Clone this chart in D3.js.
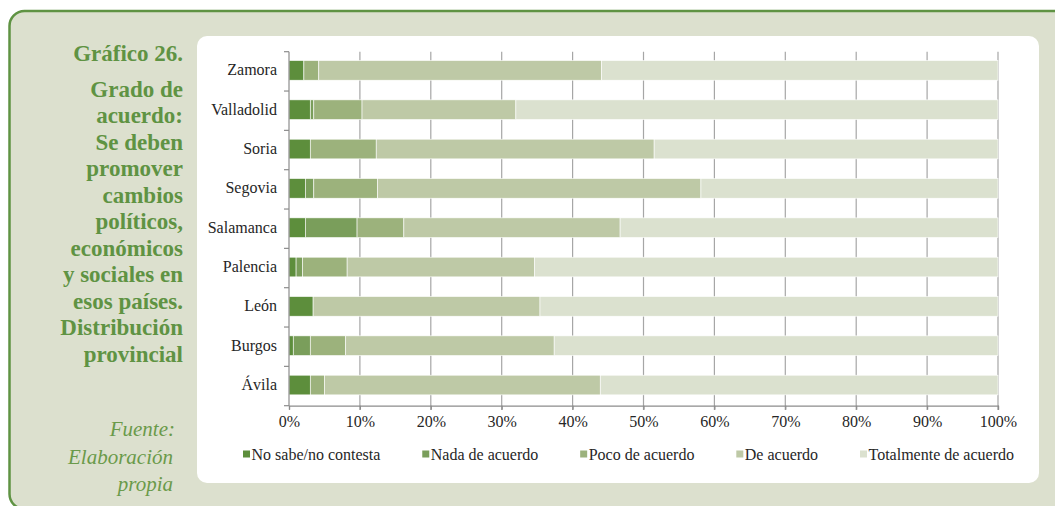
<!DOCTYPE html>
<html>
<head>
<meta charset="utf-8">
<script src="https://cdn.jsdelivr.net/npm/d3@7"></script>
</head>
<body style="margin:0">
<svg id="chart" width="1055" height="506"></svg>
<script>
// Provinces, top to bottom
const categories = ["Zamora", "Valladolid", "Soria", "Segovia", "Salamanca", "Palencia", "León", "Burgos", "Ávila"];

// Answer categories (legend order)
const seriesNames = ["No sabe/no contesta", "Nada de acuerdo", "Poco de acuerdo", "De acuerdo", "Totalmente de acuerdo"];

// Percentages per province
const noSabe     = [2.1, 3.0, 3.0, 2.3, 2.3, 1.0, 3.4, 0.6, 3.0];
const nada       = [0.0, 0.5, 0.0, 1.2, 7.3, 0.9, 0.0, 2.4, 0.0];
const poco       = [2.1, 6.8, 9.3, 9.0, 6.6, 6.3, 0.0, 5.0, 2.0];
const deAcuerdo  = [39.9, 21.7, 39.2, 45.6, 30.5, 26.4, 32.0, 29.4, 38.9];
const totalmente = [55.9, 68.0, 48.5, 41.9, 53.3, 65.4, 64.6, 62.6, 56.1];

const xTicks = [0, 10, 20, 30, 40, 50, 60, 70, 80, 90, 100];

const titleLines = ["Grado de", "acuerdo:", "Se deben", "promover", "cambios", "políticos,", "económicos", "y sociales en", "esos países.", "Distribución", "provincial"];
const sourceLines = ["Fuente:", "Elaboración", "propia"];

const colors = ["#5d8e3c", "#7a9e5b", "#9cb27c", "#bec9a6", "#dbe1cf"];
const green = "#5f9343";
const FONT = "Liberation Serif";

const rows = categories.map((c, i) => ({
  cat: c,
  "No sabe/no contesta": noSabe[i],
  "Nada de acuerdo": nada[i],
  "Poco de acuerdo": poco[i],
  "De acuerdo": deAcuerdo[i],
  "Totalmente de acuerdo": totalmente[i]
}));

const svg = d3.select("#chart");

// Outer frame
svg.append("rect")
  .attr("x", 9.5).attr("y", 11).attr("width", 1100).attr("height", 498)
  .attr("rx", 15).attr("ry", 15)
  .attr("fill", "#dce0ce").attr("stroke", green).attr("stroke-width", 2.5);

// White chart panel
svg.append("rect")
  .attr("x", 197).attr("y", 36).attr("width", 842).attr("height", 447)
  .attr("rx", 10).attr("ry", 10)
  .attr("fill", "#ffffff");

// Side title
const title = svg.append("g");
title.append("text").attr("x", 183).attr("y", 61).text("Gráfico 26.");
title.selectAll("text.line").data(titleLines).join("text")
  .attr("class", "line")
  .attr("x", 183)
  .attr("y", (d, i) => 96.5 + i * 26.5)
  .text(d => d);
title.selectAll("text")
  .attr("font-family", FONT).attr("font-weight", "bold").attr("font-size", 23)
  .attr("fill", green).attr("text-anchor", "end");

const source = svg.append("g");
source.selectAll("text").data(sourceLines).join("text")
  .attr("x", (d, i) => i === 0 ? 175 : 173)
  .attr("y", (d, i) => 436 + i * 27.5)
  .attr("font-family", FONT).attr("font-style", "italic").attr("font-size", 21)
  .attr("fill", "#6a9a4a").attr("text-anchor", "end")
  .text(d => d);

// Scales
const x = d3.scaleLinear().domain([0, 100]).range([289, 998]);
const y = d3.scaleBand().domain(categories).range([51.7, 405.7]).paddingInner(0.5).paddingOuter(0.25);
const yOuter = d3.scaleBand().domain(categories).range([51.7, 405.7]);

// Vertical gridlines
svg.append("g").selectAll("line").data(xTicks.slice(1)).join("line")
  .attr("x1", d => x(d)).attr("x2", d => x(d))
  .attr("y1", 51.7).attr("y2", 410)
  .attr("stroke", "#a6a6a6").attr("stroke-width", 1.2);

// Stacked bars
const stack = d3.stack().keys(seriesNames);
const layers = stack(rows);
svg.append("g").selectAll("g").data(layers).join("g")
  .attr("fill", (d, i) => colors[i])
  .selectAll("rect").data(d => d.filter(s => s[1] - s[0] > 0)).join("rect")
  .attr("x", d => x(d[0]))
  .attr("width", d => x(d[1]) - x(d[0]))
  .attr("y", d => y(d.data.cat) - 1)
  .attr("height", y.bandwidth())
  .attr("stroke", "#ffffff").attr("stroke-width", 0.6);

// Y axis
const yAxis = svg.append("g").attr("transform", "translate(289,0)")
  .call(d3.axisLeft(y).tickSize(0).tickPadding(12));
yAxis.attr("font-family", FONT).attr("font-size", 16);
yAxis.select(".domain").remove();
yAxis.selectAll("text")
  .attr("font-family", FONT).attr("font-size", 16).attr("fill", "#262626")
  .attr("dy", "0.25em");
// axis line and category separators
svg.append("line").attr("x1", 289).attr("x2", 289).attr("y1", 51.7).attr("y2", 405.7)
  .attr("stroke", "#8c8c8c").attr("stroke-width", 1.2);
svg.append("g").selectAll("line").data(categories.concat(["end"])).join("line")
  .attr("x1", 284).attr("x2", 289)
  .attr("y1", (d, i) => 51.7 + i * yOuter.step())
  .attr("y2", (d, i) => 51.7 + i * yOuter.step())
  .attr("stroke", "#8c8c8c").attr("stroke-width", 1.2);

// X axis
const xAxis = svg.append("g").attr("transform", "translate(0,405.7)")
  .call(d3.axisBottom(x).tickValues(xTicks).tickFormat(d => d + "%").tickSize(4).tickPadding(6));
xAxis.attr("font-family", FONT).attr("font-size", 16);
xAxis.select(".domain").attr("stroke", "#8c8c8c").attr("stroke-width", 1.2);
xAxis.selectAll(".tick line").attr("stroke", "#8c8c8c").attr("stroke-width", 1.2);
xAxis.selectAll("text")
  .attr("font-family", FONT).attr("font-size", 16).attr("fill", "#262626");

// Legend, spread across the panel width
const legend = svg.append("g");
const items = legend.selectAll("g").data(seriesNames).join("g");
items.append("rect").attr("width", 7).attr("height", 7).attr("y", -9.5)
  .attr("fill", (d, i) => colors[i]);
items.append("text").attr("x", 8.5)
  .attr("font-family", FONT).attr("font-size", 16).attr("fill", "#262626")
  .text(d => d);
const widths = [];
items.each(function () { widths.push(this.getBBox().width); });
const legendStart = 243, legendEnd = 1014;
const gap = (legendEnd - legendStart - d3.sum(widths)) / (widths.length - 1);
let cx = legendStart;
items.attr("transform", (d, i) => {
  const t = `translate(${cx},460)`;
  cx += widths[i] + gap;
  return t;
});
</script>
</body>
</html>
